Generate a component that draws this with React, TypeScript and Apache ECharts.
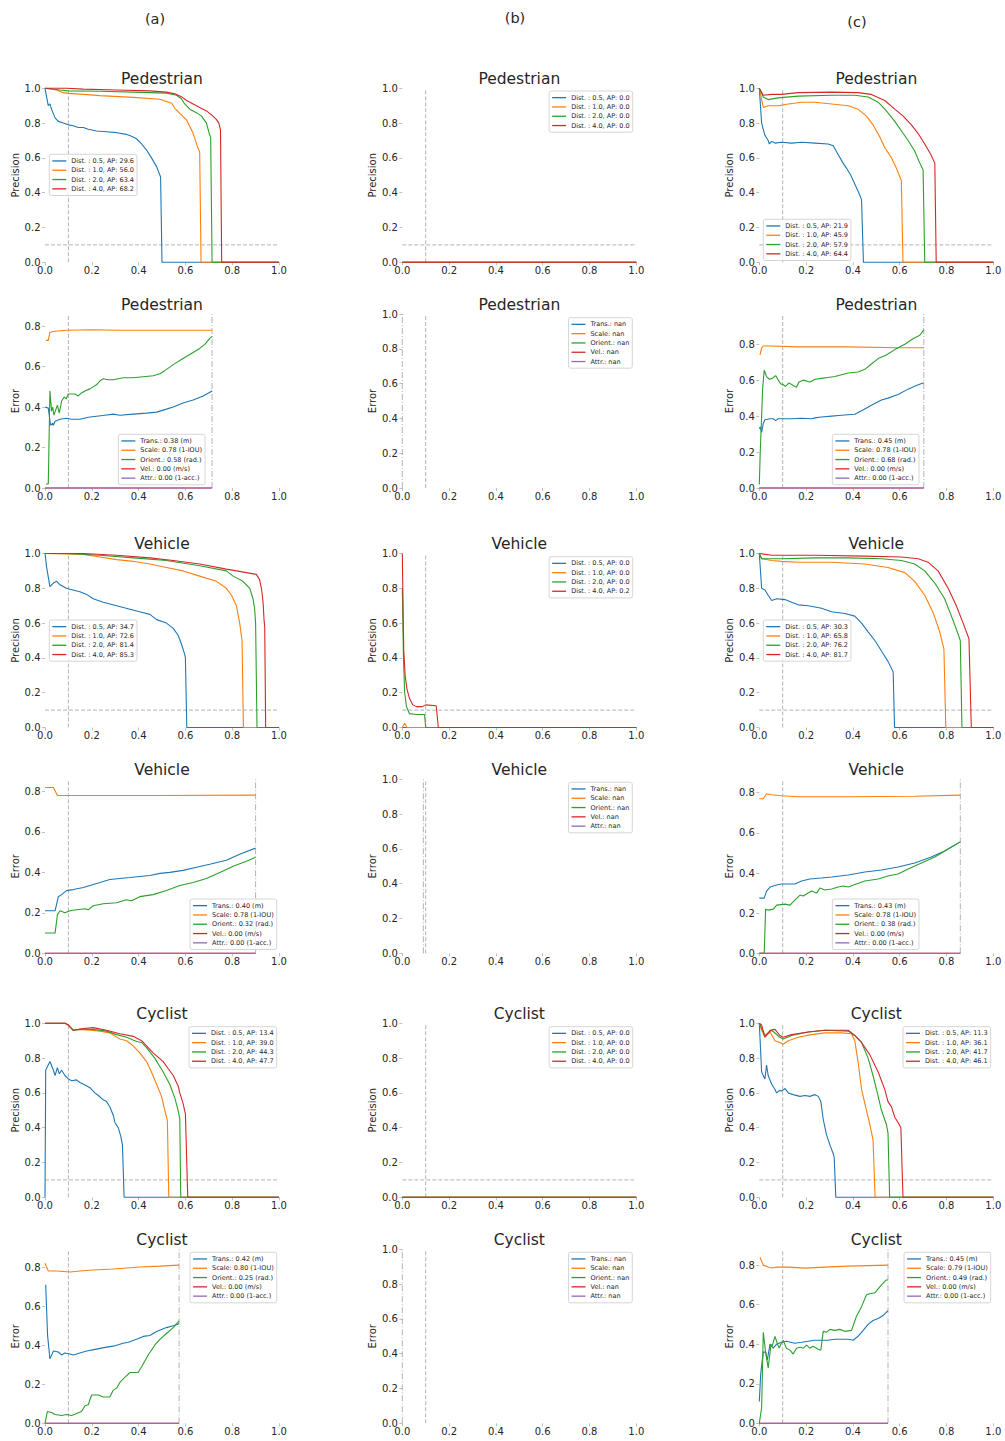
import React, { useEffect, useRef } from 'react';
import * as echarts from 'echarts';

type Pt = [number, number];

// ---------- labels ----------
const COLUMN_LABELS = ['(a)', '(b)', '(c)'];
const DIST = ['0.5', '1.0', '2.0', '4.0'];
const ERR_LABELS = ['Trans.', 'Scale', 'Orient.', 'Vel.', 'Attr.'];
const ERR_UNITS = ['(m)', '(1-IOU)', '(rad.)', '(m/s)', '(1-acc.)'];
const X_TICKS = [0, 0.2, 0.4, 0.6, 0.8, 1.0];
const MIN_RECALL = 0.1;
const MIN_PRECISION = 0.1;

// ---------- AP values ----------
const apPedA = [29.6, 56.0, 63.4, 68.2];
const apVehA = [34.7, 72.6, 81.4, 85.3];
const apCycA = [13.4, 39.0, 44.3, 47.7];
const apPedB = [0.0, 0.0, 0.0, 0.0];
const apVehB = [0.0, 0.0, 0.0, 0.2];
const apCycB = [0.0, 0.0, 0.0, 0.0];
const apPedC = [21.9, 45.9, 57.9, 64.4];
const apVehC = [30.3, 65.8, 76.2, 81.7];
const apCycC = [11.3, 36.1, 41.7, 46.1];

// ---------- mean TP errors (null = nan) ----------
const errPedA = [0.38, 0.78, 0.58, 0.0, 0.0];
const errVehA = [0.40, 0.78, 0.32, 0.0, 0.0];
const errCycA = [0.42, 0.80, 0.25, 0.0, 0.0];
const errNan = [null, null, null, null, null];
const errPedC = [0.45, 0.78, 0.68, 0.0, 0.0];
const errVehC = [0.43, 0.78, 0.38, 0.0, 0.0];
const errCycC = [0.45, 0.79, 0.49, 0.0, 0.0];

// ---------- max recall (dash-dot line in error plots) ----------
const maxRecallPedA = 0.714;
const maxRecallVehA = 0.9;
const maxRecallCycA = 0.573;
const maxRecallPedB = 0.0;
const maxRecallVehB = 0.09;
const maxRecallCycB = 0.0;
const maxRecallPedC = 0.703;
const maxRecallVehC = 0.859;
const maxRecallCycC = 0.55;

// ---------- precision / recall curves ----------
const pedA05: Pt[] = [[0, 1.0], [0.014, 0.9], [0.021, 0.91], [0.028, 0.88], [0.043, 0.83], [0.057, 0.81], [0.078, 0.8], [0.1, 0.79], [0.121, 0.785], [0.142, 0.775], [0.164, 0.775], [0.185, 0.765], [0.22, 0.755], [0.263, 0.75], [0.306, 0.745], [0.349, 0.735], [0.37, 0.725], [0.391, 0.71], [0.413, 0.68], [0.434, 0.645], [0.455, 0.6], [0.477, 0.55], [0.494, 0.49], [0.5, 0], [1, 0]];
const pedA10: Pt[] = [[0, 1.0], [0.05, 0.99], [0.078, 0.975], [0.1, 0.971], [0.164, 0.965], [0.235, 0.958], [0.377, 0.948], [0.491, 0.937], [0.541, 0.914], [0.555, 0.885], [0.576, 0.856], [0.605, 0.818], [0.633, 0.741], [0.654, 0.655], [0.661, 0.636], [0.667, 0], [1, 0]];
const pedA20: Pt[] = [[0, 1.0], [0.064, 0.99], [0.1, 0.985], [0.235, 0.983], [0.377, 0.978], [0.519, 0.972], [0.562, 0.96], [0.583, 0.94], [0.597, 0.91], [0.619, 0.88], [0.647, 0.86], [0.669, 0.84], [0.69, 0.8], [0.704, 0.73], [0.708, 0.72], [0.714, 0], [1, 0]];
const pedA40: Pt[] = [[0, 1.0], [0.092, 1.0], [0.164, 0.995], [0.306, 0.99], [0.448, 0.985], [0.519, 0.978], [0.555, 0.968], [0.583, 0.952], [0.605, 0.93], [0.633, 0.91], [0.661, 0.89], [0.69, 0.87], [0.718, 0.84], [0.733, 0.82], [0.743, 0.8], [0.75, 0.76], [0.755, 0], [1, 0]];

const vehA05: Pt[] = [[0, 1.0], [0.007, 0.92], [0.021, 0.81], [0.036, 0.83], [0.05, 0.84], [0.064, 0.82], [0.092, 0.8], [0.107, 0.795], [0.149, 0.78], [0.178, 0.765], [0.206, 0.74], [0.249, 0.72], [0.306, 0.7], [0.363, 0.68], [0.405, 0.665], [0.448, 0.65], [0.477, 0.62], [0.519, 0.6], [0.548, 0.57], [0.569, 0.53], [0.583, 0.48], [0.597, 0.42], [0.6, 0.4], [0.606, 0], [1, 0]];
const vehA10: Pt[] = [[0, 1.0], [0.164, 0.995], [0.235, 0.98], [0.306, 0.965], [0.377, 0.955], [0.448, 0.94], [0.519, 0.92], [0.59, 0.9], [0.661, 0.87], [0.733, 0.84], [0.775, 0.8], [0.797, 0.76], [0.818, 0.7], [0.832, 0.6], [0.842, 0.5], [0.848, 0], [1, 0]];
const vehA20: Pt[] = [[0, 1.0], [0.092, 1.0], [0.235, 0.99], [0.377, 0.975], [0.519, 0.96], [0.661, 0.93], [0.775, 0.9], [0.804, 0.87], [0.846, 0.84], [0.875, 0.8], [0.889, 0.74], [0.896, 0.68], [0.9, 0.6], [0.906, 0], [1, 0]];
const vehA40: Pt[] = [[0, 1.0], [0.164, 1.0], [0.306, 0.99], [0.448, 0.975], [0.548, 0.96], [0.661, 0.94], [0.775, 0.91], [0.861, 0.89], [0.903, 0.88], [0.917, 0.85], [0.925, 0.8], [0.932, 0.72], [0.936, 0.62], [0.939, 0.58], [0.943, 0], [1, 0]];

const cycA05: Pt[] = [[0, 0.0], [0.003, 0.73], [0.021, 0.78], [0.036, 0.73], [0.043, 0.7], [0.053, 0.745], [0.061, 0.71], [0.071, 0.73], [0.085, 0.7], [0.1, 0.68], [0.114, 0.67], [0.135, 0.675], [0.149, 0.66], [0.171, 0.645], [0.192, 0.63], [0.213, 0.6], [0.228, 0.585], [0.249, 0.56], [0.263, 0.55], [0.277, 0.52], [0.292, 0.47], [0.299, 0.43], [0.313, 0.4], [0.324, 0.35], [0.331, 0.3], [0.338, 0], [1, 0]];
const cycA10: Pt[] = [[0, 1.0], [0.085, 1.0], [0.1, 0.99], [0.121, 0.96], [0.149, 0.965], [0.192, 0.96], [0.235, 0.955], [0.277, 0.945], [0.32, 0.91], [0.349, 0.9], [0.377, 0.87], [0.405, 0.83], [0.434, 0.78], [0.455, 0.72], [0.477, 0.65], [0.498, 0.58], [0.512, 0.5], [0.523, 0.44], [0.529, 0], [1, 0]];
const cycA20: Pt[] = [[0, 1.0], [0.085, 1.0], [0.1, 0.99], [0.121, 0.96], [0.149, 0.965], [0.206, 0.965], [0.263, 0.955], [0.306, 0.935], [0.349, 0.92], [0.391, 0.895], [0.413, 0.89], [0.434, 0.86], [0.469, 0.8], [0.505, 0.72], [0.533, 0.65], [0.555, 0.57], [0.569, 0.5], [0.576, 0.45], [0.58, 0], [1, 0]];
const cycA40: Pt[] = [[0, 1.0], [0.085, 1.0], [0.1, 0.99], [0.121, 0.96], [0.164, 0.97], [0.206, 0.975], [0.263, 0.96], [0.32, 0.94], [0.377, 0.925], [0.413, 0.9], [0.434, 0.87], [0.462, 0.83], [0.505, 0.78], [0.526, 0.74], [0.548, 0.7], [0.569, 0.64], [0.576, 0.6], [0.59, 0.54], [0.6, 0.48], [0.61, 0], [1, 0]];

const zeroCurve: Pt[] = [[0, 0], [1, 0]];
const vehB05: Pt[] = [[0, 0], [1, 0]];
const vehB10: Pt[] = [[0, 0], [0.01, 0.025], [0.02, 0], [1, 0]];
const vehB20: Pt[] = [[0, 0.8], [0.005, 0.4], [0.01, 0.2], [0.018, 0.12], [0.03, 0.08], [0.06, 0.075], [0.095, 0.075], [0.1, 0], [1, 0]];
const vehB40: Pt[] = [[0, 1.0], [0.006, 0.45], [0.012, 0.3], [0.02, 0.22], [0.03, 0.17], [0.045, 0.13], [0.06, 0.12], [0.085, 0.12], [0.1, 0.13], [0.145, 0.125], [0.154, 0], [1, 0]];

const pedC05: Pt[] = [[0, 1.0], [0.01, 0.8], [0.024, 0.73], [0.038, 0.7], [0.043, 0.68], [0.053, 0.695], [0.067, 0.685], [0.095, 0.69], [0.138, 0.685], [0.181, 0.69], [0.238, 0.685], [0.294, 0.68], [0.316, 0.67], [0.337, 0.62], [0.358, 0.57], [0.373, 0.54], [0.391, 0.5], [0.408, 0.45], [0.425, 0.4], [0.437, 0.36], [0.445, 0], [1, 0]];
const pedC10: Pt[] = [[0, 1.0], [0.017, 0.89], [0.038, 0.9], [0.081, 0.9], [0.124, 0.91], [0.181, 0.92], [0.238, 0.92], [0.309, 0.91], [0.38, 0.9], [0.422, 0.88], [0.458, 0.84], [0.486, 0.79], [0.515, 0.72], [0.536, 0.66], [0.565, 0.6], [0.586, 0.54], [0.607, 0.47], [0.614, 0], [1, 0]];
const pedC20: Pt[] = [[0, 1.0], [0.017, 0.95], [0.038, 0.935], [0.081, 0.945], [0.166, 0.955], [0.309, 0.96], [0.408, 0.96], [0.465, 0.95], [0.508, 0.92], [0.543, 0.87], [0.579, 0.81], [0.615, 0.74], [0.636, 0.7], [0.664, 0.64], [0.686, 0.57], [0.7, 0.53], [0.707, 0], [1, 0]];
const pedC40: Pt[] = [[0, 1.0], [0.017, 0.96], [0.053, 0.965], [0.095, 0.965], [0.166, 0.975], [0.309, 0.978], [0.422, 0.975], [0.479, 0.965], [0.536, 0.93], [0.579, 0.88], [0.615, 0.84], [0.65, 0.79], [0.679, 0.74], [0.707, 0.68], [0.733, 0.62], [0.75, 0.57], [0.756, 0], [1, 0]];

const vehC05: Pt[] = [[0, 1.0], [0.01, 0.8], [0.024, 0.79], [0.038, 0.76], [0.053, 0.73], [0.074, 0.74], [0.11, 0.735], [0.138, 0.72], [0.166, 0.705], [0.209, 0.7], [0.266, 0.685], [0.309, 0.665], [0.366, 0.655], [0.408, 0.64], [0.437, 0.6], [0.465, 0.55], [0.494, 0.5], [0.522, 0.44], [0.55, 0.38], [0.572, 0.32], [0.578, 0], [1, 0]];
const vehC10: Pt[] = [[0, 1.0], [0.01, 0.97], [0.053, 0.96], [0.095, 0.955], [0.166, 0.95], [0.309, 0.95], [0.451, 0.94], [0.55, 0.92], [0.622, 0.89], [0.664, 0.84], [0.707, 0.76], [0.743, 0.66], [0.771, 0.55], [0.789, 0.45], [0.797, 0], [1, 0]];
const vehC20: Pt[] = [[0, 1.0], [0.01, 0.97], [0.095, 0.97], [0.238, 0.975], [0.38, 0.975], [0.522, 0.97], [0.607, 0.96], [0.664, 0.94], [0.707, 0.9], [0.75, 0.83], [0.792, 0.74], [0.821, 0.64], [0.846, 0.55], [0.859, 0.5], [0.866, 0], [1, 0]];
const vehC40: Pt[] = [[0, 1.0], [0.053, 0.99], [0.238, 0.99], [0.451, 0.985], [0.607, 0.98], [0.679, 0.97], [0.721, 0.95], [0.764, 0.9], [0.807, 0.8], [0.842, 0.7], [0.871, 0.6], [0.896, 0.51], [0.906, 0], [1, 0]];

const cycC05: Pt[] = [[0, 1.0], [0.01, 0.72], [0.024, 0.68], [0.031, 0.76], [0.038, 0.7], [0.053, 0.65], [0.067, 0.62], [0.074, 0.6], [0.088, 0.615], [0.095, 0.61], [0.11, 0.625], [0.124, 0.6], [0.145, 0.59], [0.174, 0.58], [0.195, 0.585], [0.216, 0.58], [0.238, 0.59], [0.252, 0.58], [0.263, 0.55], [0.273, 0.45], [0.287, 0.36], [0.302, 0.3], [0.316, 0.25], [0.32, 0.23], [0.327, 0], [1, 0]];
const cycC10: Pt[] = [[0, 1.0], [0.01, 0.96], [0.024, 0.92], [0.046, 0.95], [0.067, 0.9], [0.088, 0.89], [0.102, 0.88], [0.124, 0.9], [0.166, 0.92], [0.223, 0.935], [0.28, 0.945], [0.351, 0.945], [0.394, 0.94], [0.408, 0.9], [0.422, 0.78], [0.437, 0.62], [0.458, 0.5], [0.472, 0.42], [0.486, 0.33], [0.495, 0], [1, 0]];
const cycC20: Pt[] = [[0, 1.0], [0.01, 0.97], [0.024, 0.93], [0.053, 0.96], [0.088, 0.92], [0.102, 0.91], [0.138, 0.93], [0.209, 0.95], [0.28, 0.96], [0.38, 0.955], [0.408, 0.93], [0.437, 0.89], [0.465, 0.8], [0.486, 0.7], [0.508, 0.58], [0.522, 0.5], [0.543, 0.42], [0.55, 0.37], [0.557, 0], [1, 0]];
const cycC40: Pt[] = [[0, 1.0], [0.01, 0.99], [0.024, 0.92], [0.046, 0.96], [0.067, 0.965], [0.088, 0.93], [0.102, 0.92], [0.138, 0.935], [0.209, 0.95], [0.28, 0.96], [0.38, 0.96], [0.408, 0.93], [0.437, 0.89], [0.472, 0.82], [0.508, 0.72], [0.536, 0.62], [0.55, 0.55], [0.565, 0.52], [0.579, 0.46], [0.593, 0.43], [0.605, 0.4], [0.614, 0], [1, 0]];

// ---------- TP error curves ----------
const pedATrans: Pt[] = [[0, 0.4], [0.014, 0.395], [0.024, 0.31], [0.033, 0.32], [0.036, 0.31], [0.043, 0.33], [0.064, 0.34], [0.092, 0.345], [0.114, 0.34], [0.149, 0.34], [0.185, 0.35], [0.22, 0.355], [0.256, 0.36], [0.292, 0.365], [0.32, 0.36], [0.377, 0.365], [0.434, 0.37], [0.477, 0.375], [0.505, 0.385], [0.548, 0.4], [0.59, 0.42], [0.633, 0.435], [0.676, 0.455], [0.714, 0.48]];
const pedAScale: Pt[] = [[0.004, 0.73], [0.014, 0.73], [0.021, 0.77], [0.043, 0.775], [0.092, 0.78], [0.206, 0.782], [0.306, 0.78], [0.714, 0.78]];
const pedAOrient: Pt[] = [[0.004, 0.02], [0.014, 0.02], [0.021, 0.48], [0.028, 0.38], [0.033, 0.4], [0.038, 0.36], [0.053, 0.41], [0.061, 0.37], [0.071, 0.43], [0.082, 0.45], [0.09, 0.44], [0.1, 0.465], [0.128, 0.465], [0.142, 0.455], [0.156, 0.47], [0.171, 0.48], [0.192, 0.49], [0.206, 0.5], [0.22, 0.51], [0.235, 0.53], [0.249, 0.54], [0.27, 0.535], [0.292, 0.535], [0.313, 0.54], [0.334, 0.545], [0.377, 0.545], [0.42, 0.55], [0.462, 0.555], [0.491, 0.565], [0.512, 0.58], [0.548, 0.61], [0.59, 0.64], [0.633, 0.67], [0.661, 0.69], [0.683, 0.71], [0.704, 0.74], [0.714, 0.75]];

const vehATrans: Pt[] = [[0, 0.21], [0.043, 0.21], [0.057, 0.28], [0.071, 0.29], [0.092, 0.31], [0.121, 0.315], [0.164, 0.325], [0.192, 0.335], [0.235, 0.35], [0.277, 0.365], [0.32, 0.37], [0.363, 0.375], [0.405, 0.38], [0.448, 0.385], [0.491, 0.395], [0.533, 0.4], [0.59, 0.41], [0.647, 0.425], [0.704, 0.44], [0.775, 0.46], [0.832, 0.49], [0.9, 0.52]];
const vehAScale: Pt[] = [[0, 0.82], [0.036, 0.82], [0.053, 0.78], [0.2, 0.78], [0.5, 0.78], [0.9, 0.782]];
const vehAOrient: Pt[] = [[0, 0.1], [0.043, 0.1], [0.053, 0.19], [0.064, 0.21], [0.085, 0.2], [0.107, 0.21], [0.135, 0.215], [0.171, 0.22], [0.185, 0.215], [0.206, 0.235], [0.249, 0.245], [0.306, 0.25], [0.348, 0.265], [0.37, 0.26], [0.405, 0.28], [0.462, 0.29], [0.519, 0.31], [0.576, 0.335], [0.633, 0.35], [0.69, 0.37], [0.747, 0.4], [0.804, 0.43], [0.861, 0.455], [0.9, 0.475]];

const cycATrans: Pt[] = [[0.003, 0.71], [0.011, 0.45], [0.021, 0.33], [0.036, 0.37], [0.057, 0.365], [0.071, 0.35], [0.085, 0.36], [0.107, 0.355], [0.121, 0.35], [0.149, 0.36], [0.178, 0.37], [0.22, 0.38], [0.263, 0.39], [0.292, 0.395], [0.334, 0.41], [0.356, 0.415], [0.391, 0.43], [0.42, 0.445], [0.448, 0.45], [0.477, 0.47], [0.519, 0.49], [0.548, 0.5], [0.573, 0.51]];
const cycAScale: Pt[] = [[0, 0.82], [0.014, 0.78], [0.05, 0.78], [0.107, 0.775], [0.149, 0.78], [0.206, 0.785], [0.292, 0.79], [0.405, 0.8], [0.491, 0.805], [0.573, 0.81]];
const cycAOrient: Pt[] = [[0, 0], [0.01, 0.06], [0.028, 0.055], [0.043, 0.045], [0.071, 0.04], [0.092, 0.045], [0.114, 0.04], [0.135, 0.05], [0.156, 0.06], [0.171, 0.09], [0.185, 0.095], [0.199, 0.145], [0.228, 0.145], [0.249, 0.135], [0.277, 0.135], [0.292, 0.17], [0.306, 0.18], [0.32, 0.21], [0.341, 0.235], [0.363, 0.26], [0.398, 0.26], [0.413, 0.29], [0.441, 0.35], [0.469, 0.4], [0.491, 0.43], [0.519, 0.46], [0.548, 0.49], [0.573, 0.525]];

const pedCTrans: Pt[] = [[0, 0.33], [0.004, 0.34], [0.01, 0.31], [0.017, 0.36], [0.024, 0.38], [0.046, 0.385], [0.06, 0.385], [0.07, 0.375], [0.081, 0.385], [0.138, 0.385], [0.181, 0.388], [0.223, 0.385], [0.238, 0.39], [0.266, 0.395], [0.309, 0.4], [0.351, 0.405], [0.408, 0.41], [0.437, 0.43], [0.479, 0.46], [0.522, 0.49], [0.55, 0.5], [0.593, 0.52], [0.636, 0.55], [0.671, 0.57], [0.703, 0.585]];
const pedCScale: Pt[] = [[0.003, 0.74], [0.01, 0.78], [0.017, 0.79], [0.046, 0.79], [0.166, 0.785], [0.38, 0.785], [0.593, 0.78], [0.703, 0.78]];
const pedCOrient: Pt[] = [[0, 0.02], [0.004, 0.2], [0.01, 0.4], [0.014, 0.55], [0.021, 0.655], [0.031, 0.62], [0.043, 0.605], [0.055, 0.61], [0.064, 0.62], [0.071, 0.625], [0.081, 0.6], [0.091, 0.58], [0.102, 0.575], [0.112, 0.565], [0.127, 0.585], [0.145, 0.57], [0.159, 0.56], [0.169, 0.59], [0.188, 0.6], [0.216, 0.59], [0.238, 0.605], [0.266, 0.61], [0.294, 0.615], [0.323, 0.62], [0.351, 0.63], [0.38, 0.64], [0.422, 0.645], [0.451, 0.66], [0.479, 0.69], [0.508, 0.72], [0.543, 0.74], [0.579, 0.77], [0.622, 0.8], [0.657, 0.83], [0.686, 0.85], [0.703, 0.88]];

const vehCTrans: Pt[] = [[0, 0.275], [0.021, 0.275], [0.031, 0.31], [0.046, 0.33], [0.074, 0.34], [0.095, 0.345], [0.152, 0.345], [0.181, 0.36], [0.216, 0.37], [0.266, 0.375], [0.309, 0.38], [0.38, 0.39], [0.451, 0.405], [0.522, 0.415], [0.593, 0.43], [0.664, 0.45], [0.735, 0.48], [0.792, 0.51], [0.859, 0.555]];
const vehCScale: Pt[] = [[0, 0.77], [0.017, 0.77], [0.031, 0.795], [0.053, 0.79], [0.095, 0.785], [0.166, 0.78], [0.38, 0.78], [0.664, 0.782], [0.859, 0.788]];
const vehCOrient: Pt[] = [[0, 0], [0.021, 0], [0.027, 0.22], [0.038, 0.215], [0.06, 0.22], [0.074, 0.24], [0.11, 0.245], [0.131, 0.24], [0.152, 0.265], [0.174, 0.29], [0.188, 0.285], [0.223, 0.31], [0.245, 0.3], [0.259, 0.325], [0.28, 0.315], [0.309, 0.32], [0.337, 0.33], [0.358, 0.335], [0.38, 0.33], [0.415, 0.345], [0.451, 0.36], [0.508, 0.37], [0.55, 0.385], [0.593, 0.395], [0.636, 0.42], [0.693, 0.45], [0.75, 0.48], [0.807, 0.52], [0.859, 0.555]];

const cycCTrans: Pt[] = [[0, 0.11], [0.006, 0.25], [0.017, 0.36], [0.027, 0.36], [0.034, 0.32], [0.046, 0.4], [0.06, 0.38], [0.074, 0.4], [0.095, 0.41], [0.116, 0.415], [0.152, 0.405], [0.181, 0.41], [0.209, 0.415], [0.237, 0.42], [0.294, 0.42], [0.323, 0.425], [0.38, 0.425], [0.401, 0.42], [0.422, 0.44], [0.444, 0.47], [0.465, 0.5], [0.486, 0.52], [0.508, 0.53], [0.529, 0.545], [0.55, 0.57]];
const cycCScale: Pt[] = [[0.003, 0.84], [0.017, 0.8], [0.038, 0.79], [0.053, 0.785], [0.074, 0.79], [0.124, 0.79], [0.195, 0.785], [0.28, 0.79], [0.38, 0.795], [0.55, 0.8]];
const cycCOrient: Pt[] = [[0, 0], [0.01, 0.08], [0.017, 0.46], [0.027, 0.36], [0.038, 0.28], [0.05, 0.4], [0.055, 0.39], [0.067, 0.44], [0.078, 0.4], [0.085, 0.38], [0.092, 0.4], [0.102, 0.42], [0.116, 0.38], [0.131, 0.37], [0.145, 0.35], [0.159, 0.38], [0.174, 0.385], [0.188, 0.38], [0.202, 0.395], [0.216, 0.38], [0.23, 0.39], [0.252, 0.375], [0.263, 0.37], [0.273, 0.465], [0.287, 0.46], [0.302, 0.475], [0.323, 0.47], [0.344, 0.475], [0.365, 0.465], [0.394, 0.47], [0.415, 0.54], [0.437, 0.59], [0.458, 0.65], [0.472, 0.655], [0.494, 0.66], [0.522, 0.7], [0.543, 0.725], [0.55, 0.725]];

// ---------- styling / layout ----------
const FONT = "'DejaVu Sans', sans-serif";
const TEXT = '#262626';
const TICK = '#b0b0b0';
const REF = 'rgba(0,0,0,0.3)';
const COLORS = ['#1f77b4', '#ff7f0e', '#2ca02c', '#d62728', '#9467bd'];
const DASH = [4, 2];
const DASHDOT = [6, 2, 1, 2];
const COL_X = [45, 402.3, 759.3];
const ROW_Y = [88.3, 314, 553.5, 779.3, 1023.3, 1249.3];
const PW = 234;
const PH = 174;

type LegendPos = { left?: number; right?: number; top: number };
type Curve = { name: string; color: string; data: Pt[] };
type Ref = { data: Pt[]; dash: number[] };
type Panel = { row: number; col: number; title: string; yName: string; ymax: number; curves: Curve[]; refs: Ref[]; legend: LegendPos };

function precPanel(row: number, col: number, title: string, curves: Pt[][], ap: number[], legend: LegendPos): Panel {
  return {
    row, col, title, yName: 'Precision', ymax: 1,
    curves: curves.map((d, k) => ({ name: `Dist. : ${DIST[k]}, AP: ${ap[k].toFixed(1)}`, color: COLORS[k], data: d })),
    refs: [
      { data: [[MIN_RECALL, 0], [MIN_RECALL, 1]], dash: DASH },
      { data: [[0, MIN_PRECISION], [1, MIN_PRECISION]], dash: DASH },
    ],
    legend,
  };
}

function errPanel(row: number, col: number, title: string, trans: Pt[], scale: Pt[], orient: Pt[], vals: (number | null)[], maxR: number, legend: LegendPos): Panel {
  const isNan = vals[0] === null;
  const names = ERR_LABELS.map((l, k) => (isNan ? `${l}: nan` : `${l}: ${(vals[k] as number).toFixed(2)} ${ERR_UNITS[k]}`));
  const zero: Pt[] = isNan ? [] : [[0, 0], [maxR, 0]];
  const datas = [trans, scale, orient, zero, zero];
  let m = 0;
  [trans, scale, orient].forEach((d) => d.forEach(([x, y]) => { if (x >= MIN_RECALL && y > m) m = y; }));
  const ymax = m > 0 ? m * 1.1 : 1;
  return {
    row, col, title, yName: 'Error', ymax,
    curves: names.map((n, k) => ({ name: n, color: COLORS[k], data: datas[k] })),
    refs: [
      { data: [[MIN_RECALL, 0], [MIN_RECALL, ymax]], dash: DASH },
      { data: [[maxR, 0], [maxR, ymax]], dash: DASHDOT },
    ],
    legend,
  };
}

const PANELS: Panel[] = [
  precPanel(0, 0, 'Pedestrian', [pedA05, pedA10, pedA20, pedA40], apPedA, { left: 49.3, top: 154.3 }),
  errPanel(1, 0, 'Pedestrian', pedATrans, pedAScale, pedAOrient, errPedA, maxRecallPedA, { right: 800, top: 434.3 }),
  precPanel(2, 0, 'Vehicle', [vehA05, vehA10, vehA20, vehA40], apVehA, { left: 49.3, top: 620 }),
  errPanel(3, 0, 'Vehicle', vehATrans, vehAScale, vehAOrient, errVehA, maxRecallVehA, { right: 728.3, top: 899 }),
  precPanel(4, 0, 'Cyclist', [cycA05, cycA10, cycA20, cycA40], apCycA, { right: 728.3, top: 1026.7 }),
  errPanel(5, 0, 'Cyclist', cycATrans, cycAScale, cycAOrient, errCycA, maxRecallCycA, { right: 728.3, top: 1252.3 }),

  precPanel(0, 1, 'Pedestrian', [zeroCurve, zeroCurve, zeroCurve, zeroCurve], apPedB, { right: 372.3, top: 91 }),
  errPanel(1, 1, 'Pedestrian', [], [], [], errNan, maxRecallPedB, { right: 372.7, top: 317.7 }),
  precPanel(2, 1, 'Vehicle', [vehB05, vehB10, vehB20, vehB40], apVehB, { right: 372.3, top: 556.7 }),
  errPanel(3, 1, 'Vehicle', [], [], [], errNan, maxRecallVehB, { right: 372.7, top: 782.3 }),
  precPanel(4, 1, 'Cyclist', [zeroCurve, zeroCurve, zeroCurve, zeroCurve], apCycB, { right: 372.3, top: 1026.7 }),
  errPanel(5, 1, 'Cyclist', [], [], [], errNan, maxRecallCycB, { right: 372.7, top: 1252.3 }),

  precPanel(0, 2, 'Pedestrian', [pedC05, pedC10, pedC20, pedC40], apPedC, { left: 763.3, top: 219.3 }),
  errPanel(1, 2, 'Pedestrian', pedCTrans, pedCScale, pedCOrient, errPedC, maxRecallPedC, { right: 86, top: 434.3 }),
  precPanel(2, 2, 'Vehicle', [vehC05, vehC10, vehC20, vehC40], apVehC, { left: 763.3, top: 620 }),
  errPanel(3, 2, 'Vehicle', vehCTrans, vehCScale, vehCOrient, errVehC, maxRecallVehC, { right: 86, top: 899 }),
  precPanel(4, 2, 'Cyclist', [cycC05, cycC10, cycC20, cycC40], apCycC, { right: 14.3, top: 1026.7 }),
  errPanel(5, 2, 'Cyclist', cycCTrans, cycCScale, cycCOrient, errCycC, maxRecallCycC, { right: 14.3, top: 1252.3 }),
];

const COLUMN_LABEL_POS: [number, number][] = [[155, 19], [515, 18], [857, 22]];

function buildOption(): any {
  const grid: any[] = [];
  const xAxis: any[] = [];
  const yAxis: any[] = [];
  const series: any[] = [];
  const legend: any[] = [];
  const graphic: any[] = [];
  const fmt = (v: number) => {
    const r = Math.round(v * 10) / 10;
    return Math.abs(r - v) < 1e-6 && Math.abs(Math.round(r * 5) - r * 5) < 1e-6 ? r.toFixed(1) : '';
  };

  PANELS.forEach((p, i) => {
    const left = COL_X[p.col];
    const top = ROW_Y[p.row];
    grid.push({ left, top, width: PW, height: PH, containLabel: false });
    xAxis.push({
      gridIndex: i, type: 'value', min: 0, max: 1, interval: 0.2,
      axisLine: { show: false }, splitLine: { show: false },
      axisTick: { show: true, length: 3, lineStyle: { color: TICK, width: 0.8 }, customValues: X_TICKS },
      axisLabel: { fontSize: 10, color: TEXT, fontFamily: FONT, margin: 3, customValues: X_TICKS, formatter: (v: number) => v.toFixed(1) },
    });
    const yt: number[] = [];
    for (let k = 0; k * 0.2 <= p.ymax + 1e-9; k++) yt.push(Math.round(k * 2) / 10);
    yAxis.push({
      gridIndex: i, type: 'value', min: 0, max: p.ymax, interval: 0.2,
      name: p.yName, nameLocation: 'middle', nameGap: 23,
      nameTextStyle: { fontSize: 10, color: TEXT, fontFamily: FONT },
      axisLine: { show: false }, splitLine: { show: false },
      axisTick: { show: true, length: 3, lineStyle: { color: TICK, width: 0.8 }, customValues: yt },
      axisLabel: { fontSize: 10, color: TEXT, fontFamily: FONT, margin: 4.5, customValues: yt, formatter: fmt },
    });
    p.refs.forEach((r) => {
      series.push({
        type: 'line', xAxisIndex: i, yAxisIndex: i, data: r.data, symbol: 'none', showSymbol: false,
        clip: false, silent: true, z: 1, lineStyle: { color: REF, width: 1, type: r.dash },
      });
    });
    p.curves.forEach((c) => {
      series.push({
        type: 'line', name: c.name, xAxisIndex: i, yAxisIndex: i, data: c.data, symbol: 'none', showSymbol: false,
        clip: false, silent: true, z: 2, color: c.color,
        lineStyle: { color: c.color, width: 1.1 }, itemStyle: { color: c.color },
      });
    });
    legend.push({
      ...p.legend,
      orient: 'vertical',
      data: p.curves.map((c) => ({ name: c.name, icon: 'rect', itemStyle: { color: c.color } })),
      itemWidth: 14, itemHeight: 1.3, itemGap: 0,
      padding: [2, 3, 2, 3],
      textStyle: { fontSize: 6.5, color: TEXT, fontFamily: FONT, lineHeight: 9.3 },
      borderColor: '#cccccc', borderWidth: 0.8, borderRadius: 2,
      backgroundColor: 'rgba(255,255,255,0.8)',
      selectedMode: false,
    });
    graphic.push({
      type: 'text', x: left + PW / 2, y: top - 9.5, silent: true,
      style: { text: p.title, fontSize: 15.5, fontFamily: FONT, fill: TEXT, textAlign: 'center', textVerticalAlign: 'middle' },
    });
  });

  COLUMN_LABELS.forEach((t, k) => {
    graphic.push({
      type: 'text', x: COLUMN_LABEL_POS[k][0], y: COLUMN_LABEL_POS[k][1], silent: true,
      style: { text: t, fontSize: 14.5, fontFamily: FONT, fill: TEXT, textAlign: 'center', textVerticalAlign: 'middle' },
    });
  });

  return { animation: false, backgroundColor: '#ffffff', grid, xAxis, yAxis, series, legend, graphic };
}

const App: React.FC = () => {
  const ref = useRef<HTMLDivElement>(null);
  useEffect(() => {
    document.body.style.margin = '0';
    const chart = echarts.init(ref.current as HTMLDivElement, undefined, { renderer: 'svg' });
    chart.setOption(buildOption());
    return () => chart.dispose();
  }, []);
  return <div ref={ref} style={{ width: 1005, height: 1441 }} />;
};

export default App;
